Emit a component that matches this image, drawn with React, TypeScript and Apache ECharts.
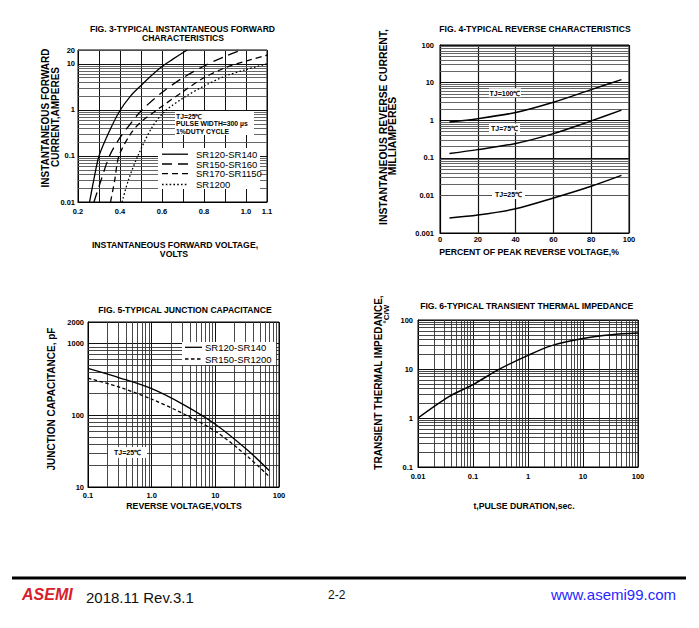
import React, { useEffect, useRef } from "react";
import * as echarts from "echarts";

// ---------- Fig. 3 forward characteristics (V, A) ----------
const f3Sr120V = [0.255, 0.275, 0.3, 0.35, 0.4, 0.45, 0.5, 0.55, 0.6, 0.65, 0.72];
const f3Sr120I = [0.01, 0.03, 0.1, 0.35, 0.97, 2.0, 3.4, 5.6, 8.8, 12.5, 20];
const f3Sr150V = [0.276, 0.31, 0.35, 0.4, 0.45, 0.5, 0.6, 0.7, 0.8, 0.9, 0.98];
const f3Sr150I = [0.01, 0.03, 0.1, 0.25, 0.5, 0.95, 2.4, 5, 9, 14.5, 20];
const f3Sr170V = [0.355, 0.375, 0.395, 0.45, 0.5, 0.57, 0.6, 0.7, 0.8, 0.9, 1.0, 1.1];
const f3Sr170I = [0.01, 0.03, 0.1, 0.3, 0.55, 0.95, 1.2, 2.5, 5, 8.2, 11.5, 15.5];
const f3Sr1200V = [0.41, 0.44, 0.485, 0.55, 0.61, 0.7, 0.8, 0.9, 1.0, 1.1];
const f3Sr1200I = [0.01, 0.03, 0.1, 0.4, 0.9, 1.8, 3.3, 5.4, 7.5, 10];
const f3XLabels = [2, 4, 6, 8, 10, 11]; // tenths of a volt that carry labels
const f3Legend = ["SR120-SR140", "SR150-SR160", "SR170-SR1150", "SR1200"];

// ---------- Fig. 4 reverse characteristics (%, mA) ----------
const f4Percent = [5, 20, 40, 60, 80, 96];
const f4Tj100 = [0.9, 1.1, 1.6, 3.0, 6.5, 12];
const f4Tj75 = [0.13, 0.165, 0.24, 0.44, 0.96, 1.85];
const f4Tj25 = [0.0025, 0.003, 0.0044, 0.0085, 0.0175, 0.034];

// ---------- Fig. 5 junction capacitance (V, pF) ----------
const f5Volt = [0.1, 0.32, 1.0, 3.16, 10, 31.6, 70];
const f5Sr120 = [450, 331, 235, 141, 75, 33, 17];
const f5Sr150 = [330, 245, 168, 105, 60, 27, 14];
const f5Legend = ["SR120-SR140", "SR150-SR1200"];

// ---------- Fig. 6 transient thermal impedance (s, °C/W) ----------
const f6Time = [0.01, 0.036, 0.1, 0.29, 1, 2.7, 10, 33, 100];
const f6Z = [1.0, 2.7, 4.8, 9.7, 19, 30, 42, 50, 54];

// ---------- grid helpers ----------
const minorMult = [2, 3, 4, 5, 6, 7, 8, 9];
const f3YDecades = [0.01, 0.1, 1];
const f3YExtra = [20];
const f4YDecades = [0.001, 0.01, 0.1, 1, 10];
const f5XDecades = [0.1, 1, 10];
const f5YDecades = [10, 100];
const f6XDecades = [0.01, 0.1, 1, 10];
const f6YDecades = [0.1, 1, 10];

const FONT = '"Liberation Sans", Arial, Helvetica, sans-serif';

const minors = (decades: number[]) =>
  decades.flatMap((d) => minorMult.map((m) => Number((d * m).toPrecision(4))));
const zip = (xs: number[], ys: number[]) => xs.map((x, i) => [x, ys[i]]);
const fmtNum = (v: number) => String(Number(Number(v).toPrecision(6)));

const logLabel = (margin: number) => ({
  fontSize: 7.5,
  fontWeight: "bold",
  color: "#000",
  fontFamily: FONT,
  margin,
  formatter: (v: number) => fmtNum(v),
  showMinLabel: true,
  showMaxLabel: true,
});

const majorSplit = { show: true, lineStyle: { color: "#111", width: 1 } };
const axisLine = { show: true, lineStyle: { color: "#000", width: 1 } };

function minorSeries(gi: number, xVals: number[], yVals: number[], anchor: number[], color = "#444") {
  return {
    type: "line",
    xAxisIndex: gi,
    yAxisIndex: gi,
    data: [anchor],
    symbol: "none",
    showSymbol: false,
    silent: true,
    z: 1,
    lineStyle: { opacity: 0 },
    markLine: {
      silent: true,
      symbol: ["none", "none"],
      label: { show: false },
      emphasis: { disabled: true },
      animation: false,
      lineStyle: { color, width: 0.9, type: "solid" },
      data: [...xVals.map((v) => ({ xAxis: v })), ...yVals.map((v) => ({ yAxis: v }))],
    },
  };
}

function curve(gi: number, data: number[][], dash: any, width = 1.3) {
  return {
    type: "line",
    xAxisIndex: gi,
    yAxisIndex: gi,
    data,
    smooth: 0.3,
    symbol: "none",
    showSymbol: false,
    silent: true,
    z: 5,
    lineStyle: { color: "#000", width, type: dash },
  };
}

function txt(text: string, x: number, y: number, size: number, opts: any = {}) {
  const align = opts.align || "center";
  const valign = opts.valign || "middle";
  return {
    type: "text",
    x,
    y,
    rotation: opts.rot ? Math.PI / 2 : 0,
    z: 20,
    silent: true,
    style: {
      text,
      x: 0,
      y: 0,
      fill: opts.fill || "#000",
      fontSize: size,
      fontWeight: opts.weight || "bold",
      fontStyle: opts.style || "normal",
      fontFamily: FONT,
      align,
      textAlign: align,
      verticalAlign: valign,
      textVerticalAlign: valign,
    },
  };
}

function box(x: number, y: number, w: number, h: number) {
  return { type: "rect", z: 15, silent: true, shape: { x, y, width: w, height: h }, style: { fill: "#fff" } };
}

function seg(x1: number, x2: number, y: number, dash: any, width = 1.3) {
  return {
    type: "line",
    z: 20,
    silent: true,
    shape: { x1, y1: y, x2, y2: y },
    style: { stroke: "#000", lineWidth: width, lineDash: dash },
  };
}

function buildOption() {
  const gridBase = { show: true, borderColor: "#000", borderWidth: 1, backgroundColor: "transparent" };
  const legendRows3 = [154.2, 164, 173.6, 184.5];
  const dashes3: any[] = [null, [10, 6], [6, 4], [1.6, 2.2]];

  const graphics: any[] = [
    // Fig. 3
    txt("FIG. 3-TYPICAL INSTANTANEOUS FORWARD", 182.5, 29, 8.6),
    txt("CHARACTERISTICS", 183, 38.3, 8.6),
    txt("INSTANTANEOUS FORWARD", 45, 118, 10, { rot: true }),
    txt("CURRENT,AMPERES", 55.5, 117, 10, { rot: true }),
    txt("INSTANTANEOUS FORWARD VOLTAGE,", 175, 245, 8.7),
    txt("VOLTS", 174, 253.7, 8.7),
    box(175, 111, 79, 24),
    txt("TJ=25℃", 176, 116, 6.8, { align: "left" }),
    txt("PULSE WIDTH=300 µs", 176, 123.5, 6.8, { align: "left" }),
    txt("1%DUTY CYCLE", 176, 131, 6.8, { align: "left" }),
    box(158, 148, 102, 41),
    ...legendRows3.map((y, i) => seg(162, 188, y, dashes3[i])),
    ...legendRows3.map((y, i) => txt(f3Legend[i], 196, y, 9.5, { align: "left", weight: "normal" })),

    // Fig. 4
    txt("FIG. 4-TYPICAL REVERSE CHARACTERISTICS", 535, 29, 8.6),
    txt("INSTANTANEOUS REVERSE CURRENT,", 383.3, 127, 10.4, { rot: true }),
    txt("MILLIAMPERES", 392, 136, 10.4, { rot: true }),
    txt("PERCENT OF PEAK REVERSE VOLTAGE,%", 529, 252, 8.7),
    box(489, 88.3, 32, 9),
    txt("TJ=100℃", 505, 93, 7),
    box(489, 123.5, 31, 9),
    txt("TJ=75℃", 504.5, 128, 7),
    box(492, 190, 33, 9),
    txt("TJ=25℃", 508.5, 194.5, 7),

    // Fig. 5
    txt("FIG. 5-TYPICAL JUNCTION CAPACITANCE", 185, 310, 8.6),
    txt("JUNCTION CAPACITANCE, pF", 51.7, 399, 10, { rot: true }),
    txt("REVERSE VOLTAGE,VOLTS", 184, 506, 8.7),
    box(182, 342, 94, 23),
    seg(185, 202, 347.3, null),
    seg(185, 202, 359, [3.5, 2.5]),
    txt(f5Legend[0], 205, 347.3, 9.5, { align: "left", weight: "normal" }),
    txt(f5Legend[1], 205, 359, 9.5, { align: "left", weight: "normal" }),
    box(108, 447, 39, 11),
    txt("TJ=25℃", 127.5, 452.5, 7),

    // Fig. 6
    txt("FIG. 6-TYPICAL TRANSIENT THERMAL IMPEDANCE", 526.7, 306, 8.6),
    txt("TRANSIENT THERMAL IMPEDANCE,", 378.3, 382.5, 10, { rot: true }),
    txt("°C/W", 386.5, 314, 8, { rot: true }),
    txt("t,PULSE DURATION,sec.", 524, 506, 8.7),

    // Footer
    { type: "rect", z: 20, silent: true, shape: { x: 12, y: 576.6, width: 674, height: 2.8 }, style: { fill: "#000" } },
    txt("ASEMI", 22, 602, 16, { align: "left", valign: "bottom", fill: "#d7202a", style: "italic", weight: 900 }),
    txt("2018.11 Rev.3.1", 86, 604.5, 15, { align: "left", valign: "bottom", fill: "#111", weight: "normal" }),
    txt("2-2", 328, 600.5, 12, { align: "left", valign: "bottom", fill: "#111", weight: "normal" }),
    txt("www.asemi99.com", 676, 601.5, 15, { align: "right", valign: "bottom", fill: "#2626ff", weight: "normal" }),
  ];

  return {
    animation: false,
    backgroundColor: "#fff",
    textStyle: { fontFamily: FONT },
    grid: [
      { ...gridBase, left: 78, top: 50, width: 189, height: 152 },
      { ...gridBase, left: 440, top: 45, width: 189, height: 188 },
      { ...gridBase, left: 88, top: 322, width: 191, height: 165 },
      { ...gridBase, left: 418, top: 320, width: 220, height: 147 },
    ],
    xAxis: [
      {
        type: "value",
        gridIndex: 0,
        min: 0.2,
        max: 1.1,
        interval: 0.1,
        axisLine,
        axisTick: { show: false },
        splitLine: { show: true, lineStyle: { color: "#111", width: 1 } },
        axisLabel: {
          fontSize: 7.5,
          fontWeight: "bold",
          color: "#000",
          fontFamily: FONT,
          margin: 5,
          showMinLabel: true,
          showMaxLabel: true,
          formatter: (v: number) => {
            const r = Math.round(v * 10);
            return f3XLabels.includes(r) ? (r / 10).toFixed(1) : "";
          },
        },
      },
      {
        type: "value",
        gridIndex: 1,
        min: 0,
        max: 100,
        interval: 20,
        axisLine,
        axisTick: { show: false },
        splitLine: { show: true, lineStyle: { color: "#111", width: 1.2 } },
        axisLabel: { fontSize: 7.5, fontWeight: "bold", color: "#000", fontFamily: FONT, margin: 2 },
      },
      {
        type: "log",
        logBase: 10,
        gridIndex: 2,
        min: 0.1,
        max: 100,
        axisLine,
        axisTick: { show: false },
        splitLine: majorSplit,
        axisLabel: { ...logLabel(4), formatter: (v: number) => (fmtNum(v) === "1" ? "1.0" : fmtNum(v)) },
      },
      {
        type: "log",
        logBase: 10,
        gridIndex: 3,
        min: 0.01,
        max: 100,
        axisLine,
        axisTick: { show: false },
        splitLine: majorSplit,
        axisLabel: logLabel(5),
      },
    ],
    yAxis: [
      { type: "log", logBase: 10, gridIndex: 0, min: 0.01, max: 20, axisLine, axisTick: { show: false }, splitLine: majorSplit, axisLabel: logLabel(3) },
      { type: "log", logBase: 10, gridIndex: 1, min: 0.001, max: 100, axisLine, axisTick: { show: false }, splitLine: majorSplit, axisLabel: logLabel(6) },
      { type: "log", logBase: 10, gridIndex: 2, min: 10, max: 2000, axisLine, axisTick: { show: false }, splitLine: majorSplit, axisLabel: logLabel(4) },
      { type: "log", logBase: 10, gridIndex: 3, min: 0.1, max: 100, axisLine, axisTick: { show: false }, splitLine: majorSplit, axisLabel: logLabel(5) },
    ],
    series: [
      minorSeries(0, [], [...minors(f3YDecades), ...f3YExtra], [0.5, 1], "#555"),
      minorSeries(1, [], minors(f4YDecades), [50, 1], "#555"),
      minorSeries(2, minors(f5XDecades), minors(f5YDecades), [1, 100], "#333"),
      minorSeries(3, minors(f6XDecades), minors(f6YDecades), [1, 1], "#333"),

      curve(0, zip(f3Sr120V, f3Sr120I), "solid"),
      curve(0, zip(f3Sr150V, f3Sr150I), [10, 6]),
      curve(0, zip(f3Sr170V, f3Sr170I), [6, 4]),
      curve(0, zip(f3Sr1200V, f3Sr1200I), [1.6, 2.2]),

      curve(1, zip(f4Percent, f4Tj100), "solid", 1.5),
      curve(1, zip(f4Percent, f4Tj75), "solid", 1.5),
      curve(1, zip(f4Percent, f4Tj25), "solid", 1.5),

      curve(2, zip(f5Volt, f5Sr120), "solid", 1.3),
      curve(2, zip(f5Volt, f5Sr150), [3.5, 2.5], 1.3),

      curve(3, zip(f6Time, f6Z), "solid", 1.5),
    ],
    graphic: { elements: graphics },
  };
}

export default function App() {
  const ref = useRef<HTMLDivElement>(null);
  useEffect(() => {
    if (!ref.current) return;
    const chart = echarts.init(ref.current, null, { renderer: "svg" });
    chart.setOption(buildOption() as any);
    return () => chart.dispose();
  }, []);
  return (
    <div
      ref={ref}
      style={{ position: "absolute", left: 0, top: 0, width: 699, height: 628, background: "#fff" }}
    />
  );
}
